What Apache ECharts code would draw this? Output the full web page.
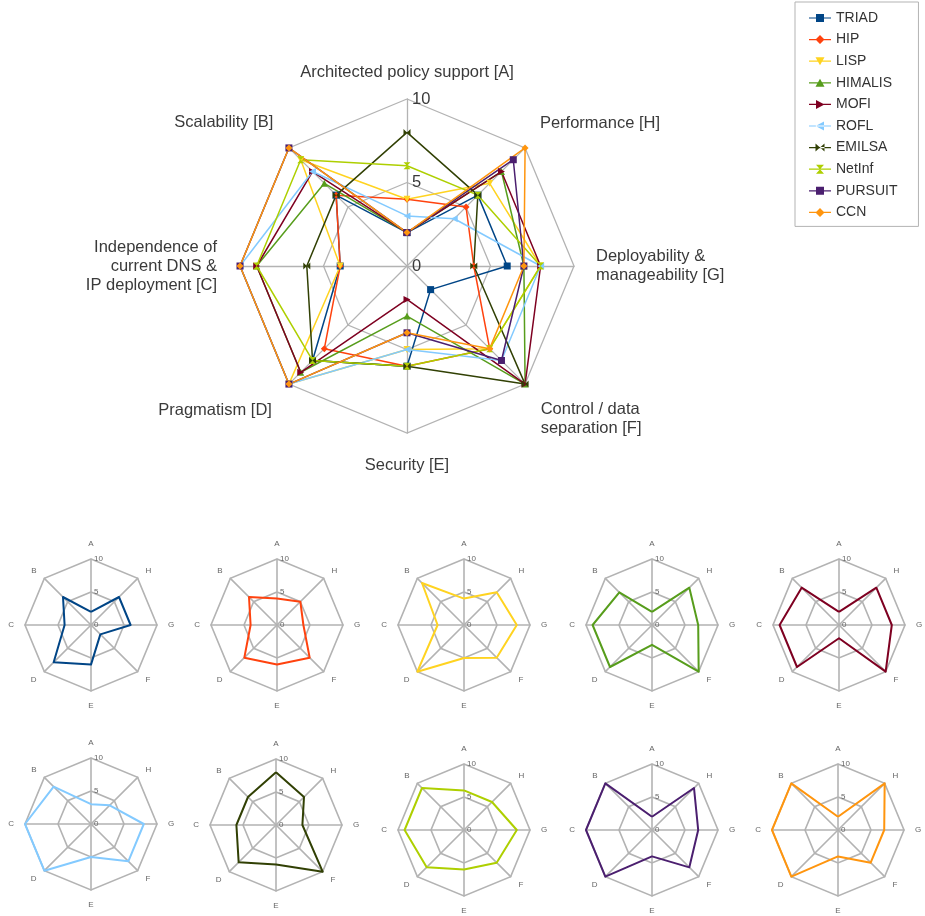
<!DOCTYPE html>
<html>
<head>
<meta charset="utf-8">
<script src="https://cdn.jsdelivr.net/npm/echarts@6/dist/echarts.min.js"></script>
<style>html,body{margin:0;padding:0;background:#fff}#c{width:925px;height:916px}</style>
</head>
<body>
<div id="c"></div>
<script>
// ---- data ----
const axisNames = ['Architected policy support [A]', 'Scalability [B]', 'Independence of\ncurrent DNS &\n IP deployment [C]', 'Pragmatism [D]', 'Security [E]', 'Control / data\nseparation [F]', 'Deployability &\nmanageability [G]', 'Performance [H]'];
const shortNames = ['A', 'B', 'C', 'D', 'E', 'F', 'G', 'H'];
const tickLabels = ['0', '5', '10'];
const seriesNames = ['TRIAD', 'HIP', 'LISP', 'HIMALIS', 'MOFI', 'ROFL', 'EMILSA', 'NetInf', 'PURSUIT', 'CCN'];
// values in order A..H
const TRIAD   = [2, 6, 4, 8, 6, 2, 6, 6];
const HIP     = [4, 6, 4, 7, 6, 7, 4, 5];
const LISP    = [4, 9, 4, 10, 5, 7, 8, 7];
const HIMALIS = [2, 7, 9, 9, 3, 10, 7, 8];
const MOFI    = [2, 8, 9, 9, 2, 10, 8, 8];
const ROFL    = [3, 8, 10, 10, 5, 8, 8, 4];
const EMILSA  = [8, 6, 6, 8, 6, 10, 4, 6];
const NetInf  = [6, 9, 9, 8, 6, 7, 8, 6];
const PURSUIT = [2, 10, 10, 10, 4, 8, 7, 9];
const CCN     = [2, 10, 10, 10, 4, 7, 7, 10];
const allValues = [TRIAD, HIP, LISP, HIMALIS, MOFI, ROFL, EMILSA, NetInf, PURSUIT, CCN];

// ---- styles ----
const colors = ['#004586', '#ff420e', '#ffd320', '#579d1c', '#7e0021', '#83caff', '#314004', '#aecf00', '#4b1f6f', '#ff950e'];
const symbols = [
  'rect', 'diamond',
  'path://M0,0 L10,0 L5,9 Z',
  'path://M5,0 L10,9 L0,9 Z',
  'path://M0,0 L9,5 L0,10 Z',
  'path://M9,0 L0,5 L9,10 Z',
  'path://M0,0 L5,5 L0,10 Z M10,0 L5,5 L10,10 Z',
  'path://M0,0 L10,0 L5,5 Z M0,10 L10,10 L5,5 Z',
  'rect', 'diamond'
];
const line = 'M0,4.4 L22,4.4 L22,5.6 L0,5.6 Z ';
const legendIcons = [
  'path://' + line + 'M7,1 L15,1 L15,9 L7,9 Z',
  'path://' + line + 'M11,0.5 L15.5,5 L11,9.5 L6.5,5 Z',
  'path://' + line + 'M6.5,1 L15.5,1 L11,9 Z',
  'path://' + line + 'M11,1 L15.5,9 L6.5,9 Z',
  'path://' + line + 'M7,0.5 L15.5,5 L7,9.5 Z',
  'path://' + line + 'M15,0.5 L6.5,5 L15,9.5 Z',
  'path://' + line + 'M6.5,1 L11,5 L6.5,9 Z M15.5,1 L11,5 L15.5,9 Z',
  'path://' + line + 'M7,0.5 L15,0.5 L11,5 Z M7,9.5 L15,9.5 L11,5 Z',
  'path://' + line + 'M7,1 L15,1 L15,9 L7,9 Z',
  'path://' + line + 'M11,0.5 L15.5,5 L11,9.5 L6.5,5 Z'
];
const FONT = 'Liberation Sans';
const gridColor = '#b3b3b3';

// main chart per-axis label placement tweaks (A..H)
const bigNameGap = [17, 22, 23, 24, 23, 22, 22, 21];
const bigNameShift = [0, -1, 0, 1, 0, 2, 0, -1]; // >0: push label down, <0: up (in blank lines)

// small multiples layout
const smallCenters = [
  [91, 625], [277, 625], [464, 625], [652, 625], [839, 625],
  [91, 824], [276, 825], [464, 830], [652, 830], [838, 830]
];

function radarConf(center, radius, names, big) {
  return {
    center: center, radius: radius, startAngle: 90, splitNumber: 2, shape: 'polygon',
    indicator: names.map((n, i) => {
      const o = { name: n, min: 0, max: 10 };
      if (i === 0) o.axisLabel = { show: true };
      if (big) o.nameGap = bigNameGap[i];
      return o;
    }),
    nameGap: big ? 17 : 11,
    axisName: big
      ? {
          color: '#3a3a3a', fontSize: 16.5, fontFamily: FONT, lineHeight: 19,
          formatter: function (value) {
            const k = bigNameShift[axisNames.indexOf(value)] || 0;
            return k > 0 ? '\n'.repeat(k) + value : k < 0 ? value + '\n'.repeat(-k) : value;
          }
        }
      : { color: '#666', fontSize: 8, fontFamily: FONT },
    splitLine: { lineStyle: { color: gridColor, width: big ? 1.3 : 1.6 } },
    splitArea: { show: false },
    axisLine: { lineStyle: { color: gridColor, width: big ? 1.3 : 1.6 } },
    axisTick: { show: false },
    axisLabel: {
      show: false, color: big ? '#3a3a3a' : '#666', fontSize: big ? 16.5 : 8, fontFamily: FONT,
      margin: big ? -5 : -3, align: 'left',
      formatter: function (v) { const i = tickLabels.indexOf(String(v)); return i >= 0 ? tickLabels[i] : ''; }
    }
  };
}

const radars = [radarConf([407, 266], 167, axisNames, true)];
smallCenters.forEach(c => radars.push(radarConf(c, 66, shortNames, false)));

const series = [];
seriesNames.forEach((name, i) => {
  series.push({
    type: 'radar', name: name, radarIndex: 0,
    symbol: symbols[i], symbolSize: 7,
    lineStyle: { color: colors[i], width: 1.5 },
    itemStyle: { color: colors[i] },
    data: [{ value: allValues[i], name: name }]
  });
});
seriesNames.forEach((name, i) => {
  series.push({
    type: 'radar', name: name, radarIndex: i + 1,
    symbol: 'none',
    lineStyle: { color: colors[i], width: 2 },
    itemStyle: { color: colors[i] },
    data: [{ value: allValues[i], name: name }]
  });
});

const chart = echarts.init(document.getElementById('c'), null, { renderer: 'canvas' });
chart.setOption({
  animation: false,
  color: colors,
  legend: {
    orient: 'vertical', left: 795, top: 2,
    padding: [9, 21, 7, 14],
    borderColor: '#b3b3b3', borderWidth: 1,
    itemWidth: 22, itemHeight: 10, itemGap: 7.6,
    textStyle: { color: '#333', fontSize: 14, fontFamily: FONT },
    selectedMode: false,
    data: seriesNames.map((n, i) => ({ name: n, icon: legendIcons[i] }))
  },
  radar: radars,
  series: series
});
</script>
</body>
</html>
